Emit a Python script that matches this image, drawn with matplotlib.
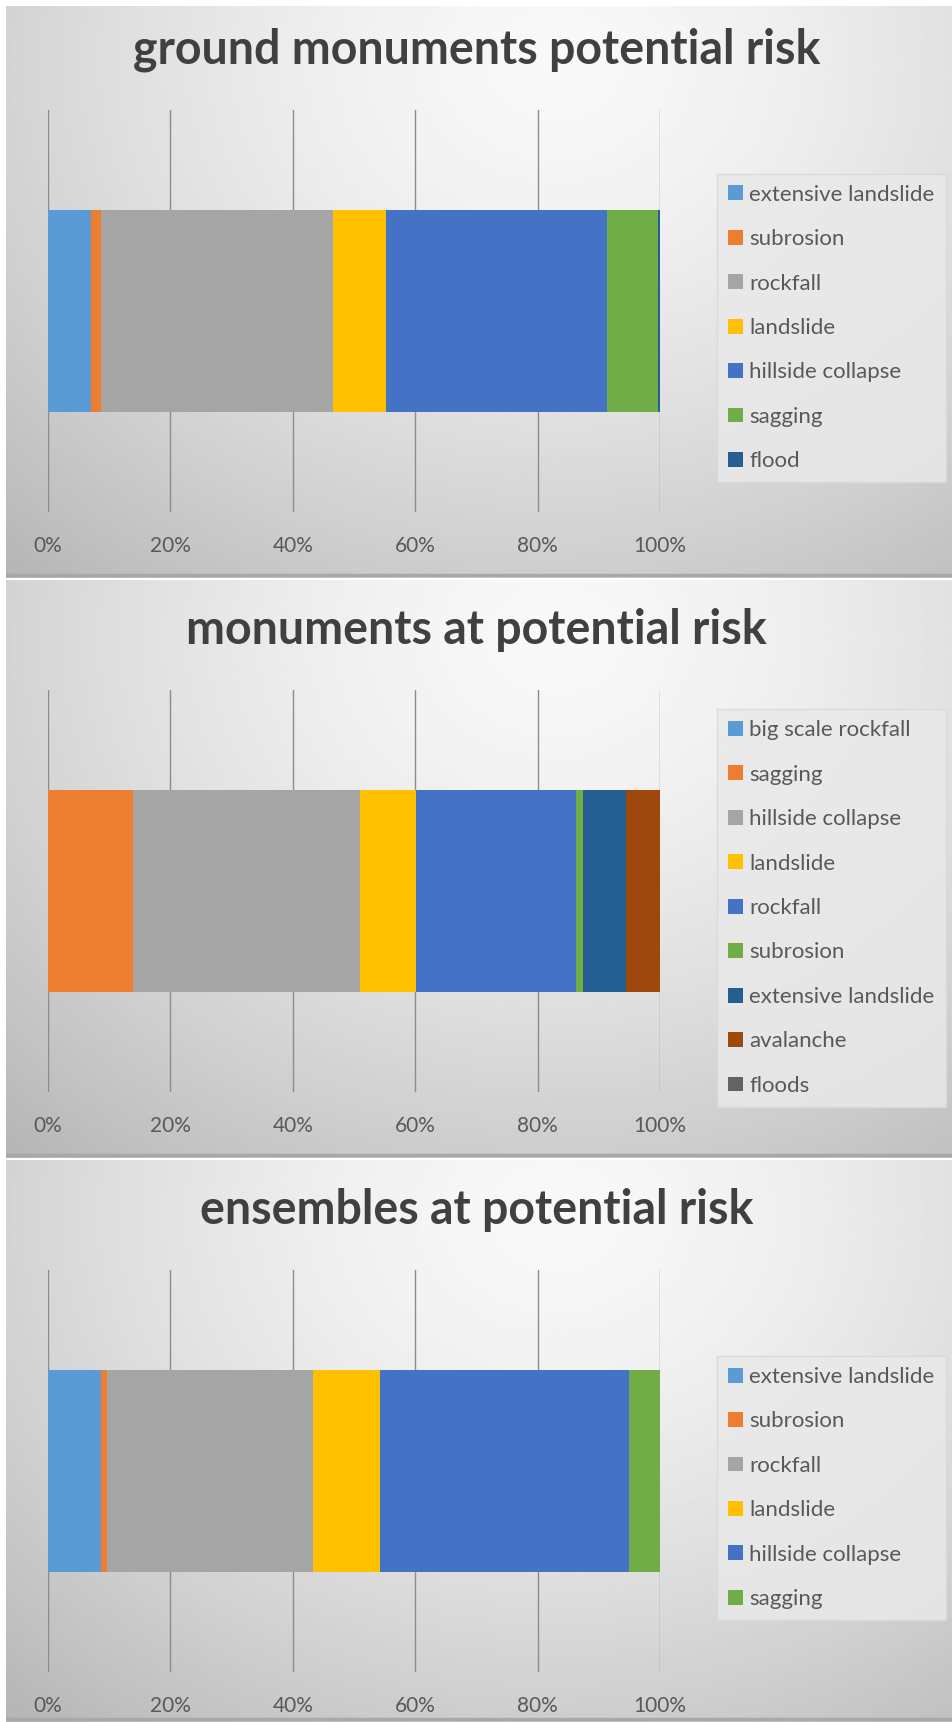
import numpy as np
import matplotlib.pyplot as plt
from matplotlib.ticker import FuncFormatter

plt.rcParams['font.family'] = ['Lato', 'DejaVu Sans']

# ---- data (percent of total) ----
g_title = 'ground monuments potential risk'
g_labels = ['extensive landslide', 'subrosion', 'rockfall', 'landslide',
            'hillside collapse', 'sagging', 'flood']
g_values = [7.1, 1.5, 37.9, 8.7, 36.2, 8.3, 0.3]

m_title = 'monuments at potential risk'
m_labels = ['big scale rockfall', 'sagging', 'hillside collapse', 'landslide',
            'rockfall', 'subrosion', 'extensive landslide', 'avalanche', 'floods']
m_values = [0.0, 13.9, 37.0, 9.3, 26.1, 1.1, 7.1, 5.5, 0.0]

e_title = 'ensembles at potential risk'
e_labels = ['extensive landslide', 'subrosion', 'rockfall', 'landslide',
            'hillside collapse', 'sagging']
e_values = [8.6, 1.0, 33.7, 11.0, 40.6, 5.1]

# office palette, series order
office = ['#5B9BD5', '#ED7D31', '#A5A5A5', '#FFC000', '#4472C4',
          '#70AD47', '#255E91', '#9E480E', '#636363']

W, H = 953, 1722
fig = plt.figure(figsize=(W / 100, H / 100), dpi=100)
fig.patch.set_facecolor('white')


def fy(px):
    return 1 - px / H


def panel_bg(top, bottom):
    # gray gradient behind each chart
    bg = fig.add_axes([6 / W, fy(bottom), 1 - 6 / W, (bottom - top) / H], zorder=0)
    ny, nx = 200, 300
    yy, xx = np.mgrid[0:1:ny * 1j, 0:1:nx * 1j]
    d = np.sqrt(((xx - 0.58) / 0.72) ** 2 + ((yy - 0.1) / 1.0) ** 2)
    val = 0.975 - 0.2 * np.clip(d, 0, 1.3) ** 1.5
    bg.imshow(val, cmap='gray', vmin=0, vmax=1, aspect='auto',
              extent=[0, 1, 1, 0], interpolation='bilinear')
    bg.set_axis_off()
    # darker line at panel bottom
    bg.axhline(0.995, color='#a8a8a8', lw=2.5)
    bg.set_xlim(0, 1)
    bg.set_ylim(1, 0)


def draw(off, title, labels, values):
    panel_bg(off + (6 if off == 0 else 0), min(off + 578, H))
    fig.text(0.5, fy(off + 50), title, ha='center', va='center',
             fontsize=33.5, fontweight='bold', color='#404040', zorder=5)

    ax = fig.add_axes([48 / W, fy(off + 512), (660 - 48) / W, 402 / H], zorder=2)
    ax.patch.set_alpha(0)
    left = 0
    for i, (lab, v) in enumerate(zip(labels, values)):
        ax.barh(0, v, height=1.0, left=left, color=office[i], label=lab, zorder=3)
        left += v
    ax.set_xlim(0, 100)
    ax.set_ylim(-0.995, 0.995)
    ax.set_xticks(range(0, 101, 20))
    ax.xaxis.set_major_formatter(FuncFormatter(lambda x, p: '{:.0f}%'.format(x)))
    ax.set_yticks([])
    ax.grid(axis='x', color='#8c8c8c', lw=1.0, zorder=1)
    for s in ax.spines.values():
        s.set_visible(False)
    ax.tick_params(axis='x', length=0, pad=17, labelsize=15, labelcolor='#595959')

    lg = fig.legend(loc='center left', bbox_to_anchor=(717 / W, fy(off + 328)),
                    fontsize=16, frameon=True, labelspacing=1.1,
                    handlelength=0.65, handleheight=0.65, handletextpad=0.3,
                    borderpad=0.5, borderaxespad=0, fancybox=False,
                    handles=ax.get_legend_handles_labels()[0],
                    labels=labels)
    lg.get_frame().set_facecolor('#e9e9e9')
    lg.get_frame().set_edgecolor('#d9d9d9')
    lg.get_frame().set_alpha(0.85)
    lg.set_zorder(6)
    for t in lg.get_texts():
        t.set_color('#595959')


draw(0, g_title, g_labels, g_values)
draw(580, m_title, m_labels, m_values)
draw(1160, e_title, e_labels, e_values)

fig.savefig('out.png', dpi=100, facecolor=fig.get_facecolor())
